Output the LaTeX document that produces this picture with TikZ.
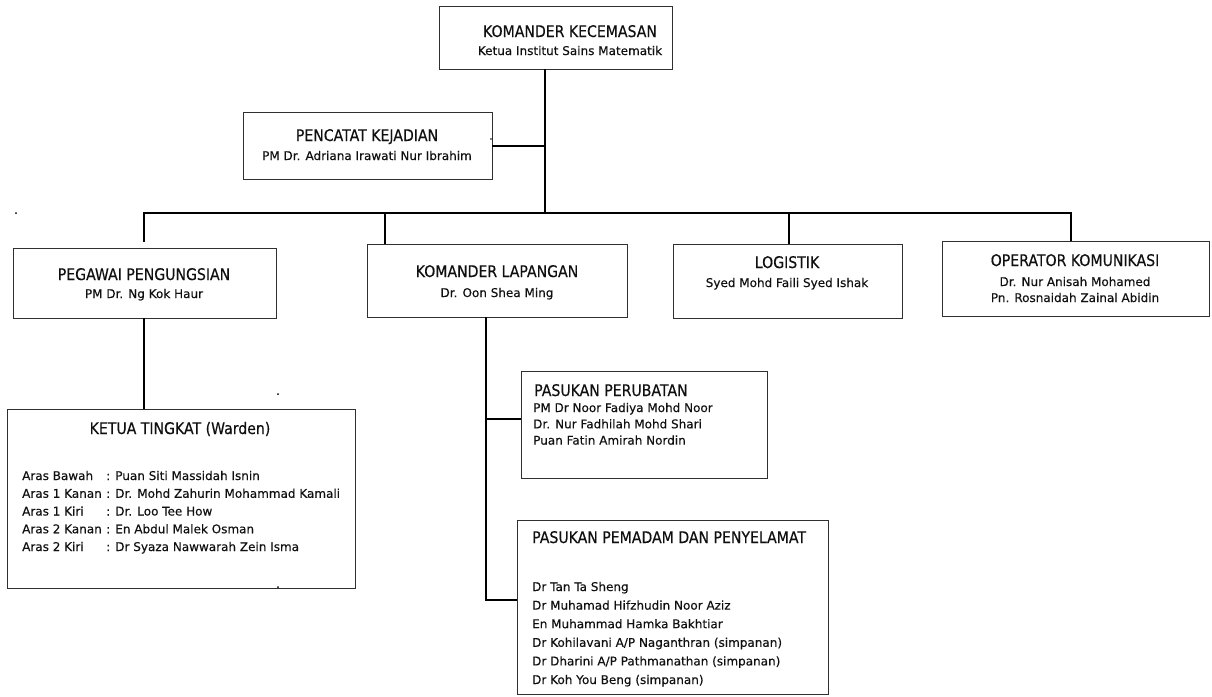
\documentclass[tikz,border=0pt]{standalone}
\usepackage{fontspec}
\setmainfont[FakeBold=0.25]{DejaVu Sans}
\newfontfamily\headfont[FakeStretch=0.88,FakeBold=0.4]{DejaVu Sans}
\usetikzlibrary{calc}
\definecolor{boxcol}{HTML}{303030}
\definecolor{txtcol}{HTML}{101010}
\tikzset{
  orgbox/.style={draw=boxcol, line width=0.9pt, inner sep=0pt, outer sep=0pt, anchor=north west},
  conn/.style={line width=2pt, black},
  ttl/.style={font=\headfont\fontsize{16}{18}\selectfont, anchor=base, text=txtcol, inner sep=0pt},
  sub/.style={font=\fontsize{12}{16}\selectfont, anchor=base, text=txtcol, inner sep=0pt},
  lst/.style={font=\fontsize{12}{17.75}\selectfont, anchor=base west, text=txtcol, inner sep=0pt},
  speck/.style={fill=black}
}
\begin{document}
\begin{tikzpicture}[x=1pt,y=-1pt]
\useasboundingbox[fill=white] (0,0) rectangle (1212,696);

% boxes
\node[orgbox, minimum width=233, minimum height=63]  (kk) at (439,6)   {};
\node[orgbox, minimum width=249, minimum height=67]  (pc) at (243,112) {};
\node[orgbox, minimum width=263, minimum height=70]  (pg) at (13,248)  {};
\node[orgbox, minimum width=260, minimum height=73]  (kl) at (367,244) {};
\node[orgbox, minimum width=229, minimum height=74]  (lg) at (673,244) {};
\node[orgbox, minimum width=267, minimum height=75]  (op) at (942,241) {};
\node[orgbox, minimum width=348, minimum height=179] (kt) at (7,409)   {};
\node[orgbox, minimum width=246, minimum height=107] (pp) at (521,371) {};
\node[orgbox, minimum width=311, minimum height=174] (pd) at (517,520) {};

% box texts
\node[ttl] (kkT) at (570,37)  {KOMANDER KECEMASAN};
\node[sub] (kkS) at (570,55)  {Ketua Institut Sains Matematik};
\node[ttl] (pcT) at (367,141) {PENCATAT KEJADIAN};
\node[sub] (pcS) at (367,160) {PM Dr. Adriana Irawati Nur Ibrahim};
\node[ttl] (pgT) at (144,280) {PEGAWAI PENGUNGSIAN};
\node[sub] (pgS) at (144,298) {PM Dr. Ng Kok Haur};
\node[ttl] (klT) at (497,277) {KOMANDER LAPANGAN};
\node[sub] (klS) at (497,297) {Dr. Oon Shea Ming};
\node[ttl] (lgT) at (787,268) {LOGISTIK};
\node[sub] (lgS) at (787,287) {Syed Mohd Faili Syed Ishak};
\node[ttl] (opT) at (1075,266) {OPERATOR KOMUNIKASI};
\node[sub] (opS1) at (1075,286) {Dr. Nur Anisah Mohamed};
\node[sub] (opS2) at (1075,302) {Pn. Rosnaidah Zainal Abidin};

\node[ttl] (ktT) at (180,434) {KETUA TINGKAT (Warden)};
\node[lst] (ktL) at (22,480) {\begin{tabular}[t]{@{}l@{}}
\makebox[84pt][l]{Aras Bawah}: Puan Siti Massidah Isnin\\
\makebox[84pt][l]{Aras 1 Kanan}: Dr. Mohd Zahurin Mohammad Kamali\\
\makebox[84pt][l]{Aras 1 Kiri}: Dr. Loo Tee How\\
\makebox[84pt][l]{Aras 2 Kanan}: En Abdul Malek Osman\\
\makebox[84pt][l]{Aras 2 Kiri}: Dr Syaza Nawwarah Zein Isma
\end{tabular}};

\node[ttl, anchor=base west] (ppT) at (534,396) {PASUKAN PERUBATAN};
\node[lst, font=\fontsize{12}{16.3}\selectfont] (ppL) at (533,412) {\begin{tabular}[t]{@{}l@{}}
PM Dr Noor Fadiya Mohd Noor\\
Dr. Nur Fadhilah Mohd Shari\\
Puan Fatin Amirah Nordin
\end{tabular}};

\node[ttl, anchor=base west] (pdT) at (532,543) {PASUKAN PEMADAM DAN PENYELAMAT};
\node[lst, font=\fontsize{12}{18.6}\selectfont] (pdL) at (532,591) {\begin{tabular}[t]{@{}l@{}}
Dr Tan Ta Sheng\\
Dr Muhamad Hifzhudin Noor Aziz\\
En Muhammad Hamka Bakhtiar\\
Dr Kohilavani A/P Naganthran (simpanan)\\
Dr Dharini A/P Pathmanathan (simpanan)\\
Dr Koh You Beng (simpanan)
\end{tabular}};

% connectors
\coordinate (bl) at (144,213);
\coordinate (br) at (1071,213);
\coordinate (bm) at (545,213);
\coordinate (bk) at (385,213);
\coordinate (bg) at (789,213);
\coordinate (ld) at (486,600);
\coordinate (lb) at (486,419);

\draw[conn] (kk.south -| bm) -- (bm);
\draw[conn] (pc.east) -- (pc.east -| bm);
\draw[conn] ($(pg.north -| bl)+(0,-6)$) -- (bl) -- (br) -- (op.north -| br);
\draw[conn] (bk) -- (kl.north -| bk);
\draw[conn] (bg) -- (lg.north -| bg);
\draw[conn] (pg.south -| bl) -- (kt.north -| bl);
\draw[conn] (kl.south -| ld) -- (ld) -- (ld -| pd.west);
\draw[conn] (lb) -- (lb -| pp.west);

% stray specks
\fill[speck] (16,213) circle (1);
\fill[speck] (278,394) circle (1);
\fill[speck] (278,587) circle (1);
\fill[speck] (491,139) circle (0.8);
\end{tikzpicture}
\end{document}
